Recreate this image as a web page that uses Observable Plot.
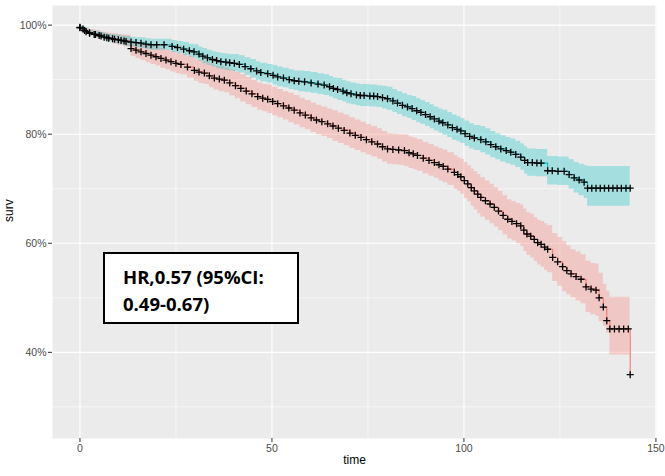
<!DOCTYPE html>
<html>
<head>
<meta charset="utf-8">
<script src="https://cdn.jsdelivr.net/npm/d3@7"></script>
<script src="https://cdn.jsdelivr.net/npm/@observablehq/plot@0.6"></script>
<style>
  html, body { margin: 0; padding: 0; background: #ffffff; }
  #wrap { position: relative; width: 665px; height: 476px; }
  #wrap svg { display: block; }
  #hr {
    position: absolute; left: 103px; top: 252px; width: 196px; height: 72px;
    box-sizing: border-box; border: 2px solid #000; background: #fff;
    padding: 10px 0 0 18px;
    font-family: "Open Sans", "Noto Sans", sans-serif; font-weight: 700;
    font-size: 18.5px; line-height: 26.7px; color: #000; white-space: nowrap;
  }
</style>
</head>
<body>
<div id="wrap"></div>
<script>
// ---- data (survival in %) ----
const cyanTime = [0,0.8,1.6,2.5,3.7,5,6.3,7.5,9,10.7,12,13.3,14.6,15.9,17.2,18.5,20,21.9,24,25.4,27,28.5,29.7,31,32,33.2,34.5,35.6,36.7,38,39,40.2,41.5,43,44.5,46,47.1,48.9,50.3,51.5,53,54.5,55.8,57,58.5,60.2,62,63.6,65,66,67.1,68.5,69.5,70.6,72,73,74,75.5,76.5,77.5,78.8,80.1,81.5,82.7,84,85.3,86.5,87.7,88.8,90,91.2,92.3,93.5,94.5,95.8,97,98.2,99.2,100.3,101.5,102.7,104.4,105.7,107,108.3,109.6,111,112.2,113.5,114.8,115.8,116.6,117.8,119,120.1,121.8,123,124.5,126.1,127.4,128.7,130,131.3,132.2,133.3,134.4,135.5,136.6,137.7,138.8,139.9,141,142.2,143.3];
const cyanSurv = [99.6,99.3,98.8,98.5,98.3,98.1,97.8,97.6,97.4,97.2,97.0,96.9,96.8,96.7,96.5,96.4,96.4,96.4,96.1,95.9,95.6,95.3,95.1,94.7,94.3,94.0,93.7,93.5,93.3,93.2,93.1,93.0,92.8,92.4,92.0,91.6,91.3,91.1,90.8,90.5,90.3,90.0,89.8,89.7,89.6,89.4,89.2,89.0,88.7,88.4,88.2,87.9,87.6,87.4,87.2,87.1,87.1,87.0,87.0,86.9,86.7,86.5,86.1,85.7,85.3,85.0,84.7,84.3,84.0,83.6,83.2,82.8,82.4,82.1,81.7,81.2,80.9,80.6,80.1,79.6,79.3,79.0,78.6,78.1,77.7,77.3,77.0,76.7,76.3,75.8,75.2,74.8,74.8,74.7,74.7,73.3,73.3,73.2,73.2,72.6,72.0,71.6,71.2,70.1,70.1,70.1,70.1,70.1,70.1,70.1,70.1,70.1,70.1,70.1];
const cyanLow = [99.3,98.9,98.3,98.0,97.7,97.5,97.1,96.9,96.6,96.4,96.1,96.0,95.9,95.7,95.5,95.4,95.4,95.4,95.0,94.8,94.4,94.1,93.8,93.4,92.9,92.6,92.3,92.0,91.8,91.7,91.6,91.4,91.2,90.8,90.3,89.9,89.6,89.4,89.0,88.7,88.5,88.2,88.0,87.8,87.7,87.5,87.3,87.1,86.8,86.5,86.2,85.9,85.6,85.4,85.2,85.1,85.1,85.0,85.0,84.9,84.6,84.4,84.0,83.6,83.2,82.9,82.5,82.1,81.8,81.4,81.0,80.6,80.2,79.8,79.4,78.9,78.6,78.3,77.8,77.3,77.0,76.6,76.2,75.7,75.3,74.9,74.6,74.3,73.9,73.4,72.7,72.3,72.3,72.2,72.2,70.7,70.7,70.6,70.6,69.9,69.2,68.7,68.2,66.8,66.8,66.8,66.8,66.8,66.8,66.8,66.8,66.8,66.8,66.8];
const cyanHigh = [99.9,99.7,99.3,99.0,98.9,98.7,98.5,98.3,98.2,98.0,97.9,97.8,97.7,97.7,97.5,97.4,97.4,97.4,97.2,97.0,96.8,96.5,96.4,96.0,95.7,95.4,95.1,95.0,94.8,94.7,94.6,94.6,94.4,94.0,93.7,93.3,93.0,92.8,92.6,92.3,92.1,91.8,91.6,91.6,91.5,91.3,91.1,90.9,90.6,90.3,90.2,89.9,89.6,89.4,89.2,89.1,89.1,89.0,89.0,88.9,88.8,88.6,88.2,87.8,87.4,87.1,86.9,86.5,86.2,85.8,85.4,85.0,84.6,84.4,84.0,83.5,83.2,82.9,82.4,81.9,81.6,81.4,81.0,80.5,80.1,79.7,79.4,79.1,78.7,78.2,77.7,77.3,77.3,77.2,77.2,75.9,75.9,75.8,75.8,75.3,74.8,74.5,74.2,74.1,74.1,74.1,74.1,74.1,74.1,74.1,74.1,74.1,74.1,74.1];

const redTime = [0,1.2,2.5,4,5.5,7,8.5,10,11.5,13.3,14.6,15.9,17.2,18.5,19.8,21.1,22.4,23.7,25,26.3,28,29.8,31,32.4,33.7,35,36.3,37.6,39,40.5,41.9,43.3,44.8,46.3,47.6,48.9,50.2,51.5,53,54.4,55.8,57.3,58.7,60.2,61.6,63,64.5,65.9,67.3,68.8,70.3,71.7,73.2,74.6,76,77.5,78.8,80.1,81.5,83,84.5,85.7,86.8,87.9,89.4,90.9,92.3,93.5,94.6,95.8,97.5,98.4,99.2,100.1,101,101.9,102.7,103.6,104.4,105.6,106.8,107.9,109,110.2,111.4,112.5,113.7,114.8,115.6,116.4,117.4,118.3,119.2,120.1,121,121.8,123.1,124.4,125.7,126.8,127.9,129.2,130.5,131.8,133.1,134.4,135.2,136.3,137.2,138,139.2,140.4,141.6,142.8,143.3];
const redSurv = [99.5,99.0,98.6,98.3,98.0,97.7,97.5,97.3,97.1,95.7,95.4,95.1,94.8,94.5,94.2,93.9,93.6,93.3,93.0,92.8,92.3,91.7,91.4,91.2,90.7,90.3,90.1,89.9,89.4,88.9,88.4,87.9,87.4,86.9,86.6,86.4,86.0,85.6,85.2,84.8,84.4,83.9,83.5,83.0,82.6,82.3,81.9,81.5,81.1,80.7,80.2,79.8,79.4,79.0,78.6,78.2,77.7,77.3,77.2,77.1,77.0,76.6,76.4,76.1,75.6,75.2,74.8,74.4,74.1,73.6,73.0,72.6,72.2,71.5,70.9,70.2,69.6,69.0,68.4,67.8,67.2,66.6,65.9,65.1,64.4,64.0,63.6,63.2,62.4,61.7,61.3,60.7,60.1,59.8,59.3,58.9,57.4,56.6,55.7,55.0,54.4,53.9,53.4,52.0,51.6,51.4,50.0,48.3,45.8,44.3,44.3,44.3,44.3,44.3,35.9];
const redLow = [99.2,98.5,98.0,97.6,97.3,96.9,96.6,96.3,96.0,94.3,93.9,93.5,93.1,92.8,92.5,92.1,91.8,91.4,91.1,90.9,90.3,89.7,89.3,89.1,88.5,88.1,87.8,87.6,87.0,86.5,85.9,85.4,84.9,84.4,84.1,83.8,83.4,83.0,82.6,82.1,81.7,81.2,80.8,80.3,79.9,79.6,79.2,78.7,78.3,77.9,77.4,77.0,76.6,76.2,75.8,75.4,74.9,74.5,74.4,74.3,74.1,73.7,73.5,73.2,72.7,72.3,71.9,71.4,71.1,70.6,69.9,69.5,69.0,68.2,67.6,66.8,66.1,65.4,64.8,64.2,63.6,63.0,62.3,61.5,60.8,60.4,59.9,59.4,58.5,57.8,57.3,56.7,56.0,55.6,55.0,54.6,53.0,52.1,51.1,50.5,50.0,49.4,48.9,47.3,46.9,46.6,45.6,44.8,43.5,39.5,39.5,39.5,39.5,39.5,39.5];
const redHigh = [99.8,99.5,99.2,99.0,98.7,98.5,98.4,98.3,98.2,97.1,96.9,96.7,96.5,96.2,95.9,95.7,95.4,95.2,94.9,94.7,94.3,93.7,93.5,93.3,92.9,92.5,92.4,92.2,91.8,91.3,90.9,90.4,89.9,89.4,89.1,89.0,88.6,88.2,87.8,87.5,87.1,86.6,86.2,85.7,85.3,85.0,84.6,84.3,83.9,83.5,83.0,82.6,82.2,81.8,81.4,81.0,80.5,80.1,80.0,79.9,79.9,79.5,79.3,79.0,78.5,78.1,77.7,77.4,77.1,76.6,76.1,75.7,75.4,74.8,74.2,73.6,73.1,72.6,72.0,71.4,70.8,70.2,69.5,68.7,68.0,67.6,67.3,67.0,66.3,65.6,65.3,64.7,64.2,64.0,63.6,63.2,61.8,61.1,60.3,59.5,58.8,58.4,57.9,56.7,56.3,56.2,54.5,52.5,51.2,50.1,50.1,50.1,50.1,50.1,50.1];

const xTicks = [0, 50, 100, 150];
const xMinor = [25, 75, 125];
const yTicks = [40, 60, 80, 100];
const yMinor = [30, 50, 70, 90];
const annotationLines = ["HR,0.57 (95%CI:", "0.49-0.67)"];

// ---- build ----
const toRows = (t, s, lo, hi) => t.map((v, i) => ({time: v, surv: s[i], lo: lo[i], hi: hi[i]}));
const cyanRows = toRows(cyanTime, cyanSurv, cyanLow, cyanHigh);
const redRows = toRows(redTime, redSurv, redLow, redHigh);
const RED = "#F8766D", CYAN = "#00BFC4";

const plusSymbol = {
  draw(ctx, size) {
    const r = Math.sqrt(size / Math.PI);
    ctx.moveTo(-r, 0); ctx.lineTo(r, 0);
    ctx.moveTo(0, -r); ctx.lineTo(0, r);
  }
};

const chart = Plot.plot({
  width: 665,
  height: 476,
  marginLeft: 52,
  marginRight: 9,
  marginTop: 5,
  marginBottom: 38,
  style: {fontFamily: "'Liberation Sans', Arial, sans-serif", background: "#ffffff", overflow: "visible"},
  x: {domain: [-7.15, 150.15]},
  y: {domain: [24.2, 103.6]},
  marks: [
    Plot.frame({fill: "#EBEBEB", stroke: null}),
    Plot.ruleX(xMinor, {stroke: "#ffffff", strokeWidth: 0.55}),
    Plot.ruleY(yMinor, {stroke: "#ffffff", strokeWidth: 0.55}),
    Plot.ruleX(xTicks, {stroke: "#ffffff", strokeWidth: 1.1}),
    Plot.ruleY(yTicks, {stroke: "#ffffff", strokeWidth: 1.1}),
    Plot.areaY(redRows, {x: "time", y1: "lo", y2: "hi", fill: RED, fillOpacity: 0.3, curve: "step-after"}),
    Plot.areaY(cyanRows, {x: "time", y1: "lo", y2: "hi", fill: CYAN, fillOpacity: 0.3, curve: "step-after"}),
    Plot.lineY(redRows, {x: "time", y: "surv", stroke: RED, strokeWidth: 1.1, curve: "step-after"}),
    Plot.lineY(cyanRows, {x: "time", y: "surv", stroke: CYAN, strokeWidth: 1.1, curve: "step-after"}),
    Plot.dot(redRows, {x: "time", y: "surv", symbol: plusSymbol, r: 3.5, stroke: "#000", strokeWidth: 1.3, fill: "none"}),
    Plot.dot(cyanRows, {x: "time", y: "surv", symbol: plusSymbol, r: 3.5, stroke: "#000", strokeWidth: 1.3, fill: "none"}),
    Plot.axisX({ticks: xTicks, tickSize: 4, tickPadding: 2, label: null, fontSize: 10.5, fill: "#4D4D4D", stroke: "#333333"}),
    Plot.axisY({ticks: yTicks, tickSize: 4, tickPadding: 2, label: null, tickFormat: d => d + "%", fontSize: 10.5, fill: "#4D4D4D", stroke: "#333333"}),
    Plot.text(["time"], {frameAnchor: "bottom", dy: 25, fontSize: 12, fill: "#000"}),
    Plot.text(["surv"], {frameAnchor: "left", dx: -43, rotate: -90, fontSize: 12, fill: "#000"})
  ]
});

const wrap = document.getElementById("wrap");
wrap.appendChild(chart);
const box = document.createElement("div");
box.id = "hr";
box.innerHTML = annotationLines.map(s => `<div>${s}</div>`).join("");
wrap.appendChild(box);
</script>
</body>
</html>
